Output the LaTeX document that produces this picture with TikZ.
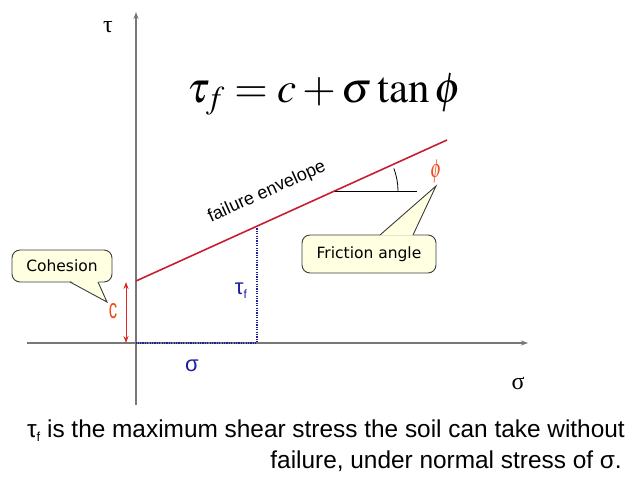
\documentclass[tikz,border=0pt]{standalone}
\usepackage{mathptmx}
\usepackage{fontspec}
\setmainfont{Liberation Sans}
\newfontfamily\serifgr{Liberation Serif}
\newfontfamily\callfont{DejaVu Sans}
\usetikzlibrary{arrows.meta}
\definecolor{axisgray}{RGB}{120,120,120}
\definecolor{envred}{RGB}{200,30,50}
\definecolor{arrred}{RGB}{220,40,40}
\definecolor{lblred}{RGB}{235,80,30}
\definecolor{dkblue}{RGB}{30,30,160}
\definecolor{callfill}{RGB}{255,255,225}
\definecolor{callline}{RGB}{60,60,60}
\tikzset{
  axisline/.style={draw=axisgray, line width=1.1pt, -{Stealth[length=7pt,width=5pt]}},
  envline/.style={draw=envred, line width=1.6pt},
  dotblue/.style={draw=dkblue, line width=1.3pt, dash pattern=on 1.2pt off 1.2pt},
  callbox/.style={draw=callline, fill=callfill, line width=0.9pt, rounded corners=8pt, inner sep=0pt, font=\callfont\fontsize{15.5}{18}\selectfont},
  callside/.style={draw=callline, line width=0.9pt},
  axlabel/.style={font=\serifgr\fontsize{24}{28}\selectfont, inner sep=0pt},
  captext/.style={font=\fontsize{24.4}{28}\selectfont, inner sep=0pt, anchor=base east}
}
\begin{document}
\begin{tikzpicture}[x=1pt,y=-1pt]
\useasboundingbox (0,0) rectangle (629,491);
% axes
\coordinate (vbot) at (136,405);
\coordinate (vtop) at (136,12);
\coordinate (hleft) at (27,343);
\coordinate (hright) at (528,343);
\draw[axisline] (vbot) -- (vtop);
\draw[axisline] (hleft) -- (hright);
\node[axlabel] (taulbl) at (108,27) {τ};
\node[axlabel] (sigmalbl) at (518,383) {σ};
% equation
\node[anchor=base west, inner sep=0pt, font=\fontsize{43}{50}\selectfont] (eq) at (187,102) {$\tau_{f} = c + \sigma\tan\phi$};
% failure envelope
\coordinate (e0) at (136,281);
\coordinate (e1) at (447,140);
\coordinate (ptf) at (257,226);
\coordinate (pt0) at (257,343);
\coordinate (origin) at (136,343);
\draw[dotblue] (ptf) -- (pt0) -- (origin);
\draw[envline] (e0) -- (e1);
\node[rotate=24.4, font=\fontsize{18}{20}\selectfont, inner sep=0pt] (envlbl) at (267,192) {failure envelope};
% angle
\coordinate (hstart) at (335,191);
\coordinate (hend) at (417,191);
\draw[black, line width=0.9pt] (hstart) -- (hend);
\draw[black, line width=0.8pt] (398,191) arc[start angle=0, end angle=-21, radius=63];
\node[text=lblred, xscale=0.7, font=\fontsize{26}{28}\selectfont, inner sep=0pt] (philbl) at (436,172) {$\phi$};
% cohesion arrow
\coordinate (ctop) at (126,282);
\coordinate (cbot) at (126,343);
\draw[draw=arrred, line width=1pt, {Stealth[length=7pt,width=5pt]}-{Stealth[length=7pt,width=5pt]}] (ctop) -- (cbot);
\node[text=lblred, xscale=0.6, font=\fontsize{28}{30}\selectfont, inner sep=0pt] (clbl) at (113,311) {c};
% blue labels
\node[text=dkblue, font=\fontsize{22}{24}\selectfont, inner sep=0pt] (taufl) at (241,291) {τ\raisebox{-0.35ex}{\fontsize{12}{14}\selectfont f}};
\node[text=dkblue, font=\fontsize{22}{24}\selectfont, inner sep=0pt] (sigl) at (192,366) {σ};
% Cohesion callout
\node[callbox, minimum width=100pt, minimum height=32pt] (coh) at (62,266) {Cohesion};
\coordinate (cohtip) at (107,302);
\fill[callfill] (70,280.5) -- (cohtip) -- (98,280.5) -- cycle;
\draw[callside] (70,282) -- (cohtip) -- (98,282);
% Friction callout
\node[callbox, minimum width=134pt, minimum height=38pt] (fric) at (369,254) {Friction angle};
\coordinate (frtip) at (436,186);
\fill[callfill] (380,235.5) -- (frtip) -- (413,235.5) -- cycle;
\draw[callside] (380,235) -- (frtip) -- (413,235);
% caption
\node[captext] (cap1) at (625,437) {τ\raisebox{-0.35ex}{\fontsize{13}{15}\selectfont f} is the maximum shear stress the soil can take without};
\node[captext] (cap2) at (622,468) {failure, under normal stress of σ.};
\end{tikzpicture}
\end{document}
